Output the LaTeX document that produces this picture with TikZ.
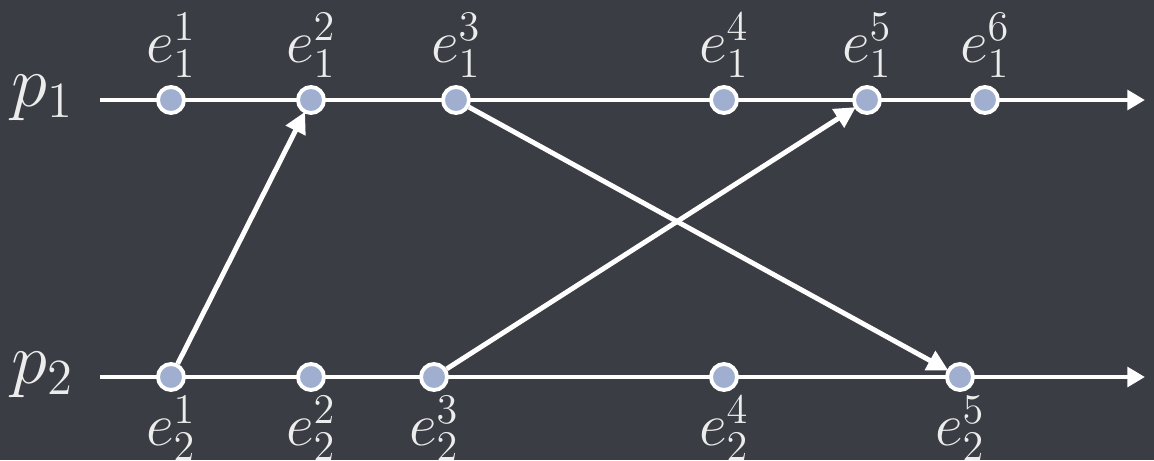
\documentclass[tikz,border=0pt]{standalone}
\usepackage{amsmath}
\usepackage{xcolor}
\usepackage{tikz}
\usetikzlibrary{arrows.meta,positioning}

\definecolor{slate}{RGB}{58,61,67}
\definecolor{dotblue}{RGB}{160,174,208}
\definecolor{labelgrey}{RGB}{236,236,236}

\begin{document}
\begin{tikzpicture}[
  x=0.01cm, y=-0.01cm,
  every label/.style={text=labelgrey, font=\fontsize{17}{20}\selectfont, inner sep=1pt},
  event/.style={circle, draw=white, line width=1.1pt, fill=dotblue, minimum size=0.26cm, inner sep=0pt},
  proc/.style={text=labelgrey, font=\fontsize{20}{24}\selectfont},
  line/.style={white, line width=1.4pt, -{Triangle[length=5pt, width=5.5pt]}},
  msg/.style={white, line width=1.4pt, -{Triangle[length=6pt, width=6pt]}, shorten >=-0.5pt}
]
\fill[slate] (0,0) rectangle (1154,460);
\useasboundingbox (0,0) rectangle (1154,460);

% process lines
\node[proc] (p1) at (43,98) {$p_1$};
\node[proc] (p2) at (43,375) {$p_2$};
\coordinate (s1) at (100,100);
\coordinate (t1) at (1145,100);
\coordinate (s2) at (100,377);
\coordinate (t2) at (1145,377);
\draw[line] (s1)--(t1);
\draw[line] (s2)--(t2);

% events of p1
\node[event, label={[yshift=1pt]above:$e_1^1$}] (a1) at (171,100) {};
\node[event, label={[yshift=1pt]above:$e_1^2$}] (a2) at (311,100) {};
\node[event, label={[yshift=1pt]above:$e_1^3$}] (a3) at (456,100) {};
\node[event, label={[yshift=1pt]above:$e_1^4$}] (a4) at (724,100) {};
\node[event, label={[yshift=1pt]above:$e_1^5$}] (a5) at (867,100) {};
\node[event, label={[yshift=1pt]above:$e_1^6$}] (a6) at (985,100) {};

% events of p2
\node[event, label={below:$e_2^1$}] (b1) at (171,377) {};
\node[event, label={below:$e_2^2$}] (b2) at (311,377) {};
\node[event, label={below:$e_2^3$}] (b3) at (434,377) {};
\node[event, label={below:$e_2^4$}] (b4) at (724,377) {};
\node[event, label={below:$e_2^5$}] (b5) at (960,377) {};

% messages
\draw[msg] (b1)--(a2);
\draw[msg] (a3)--(b5);
\draw[msg] (b3)--(a5);
\end{tikzpicture}
\end{document}
